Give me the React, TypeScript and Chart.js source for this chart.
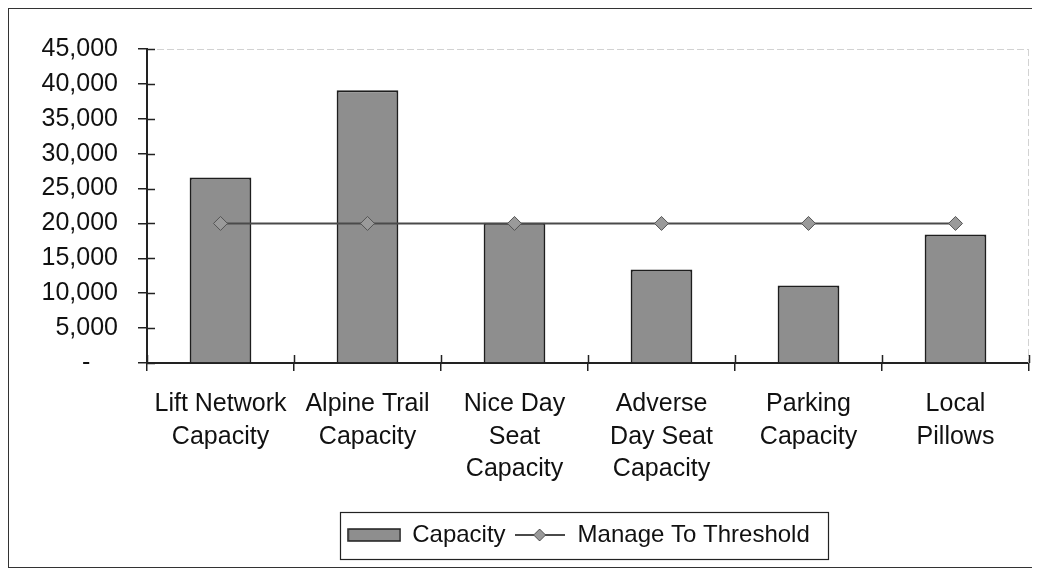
import React, { useEffect, useRef } from "react";
import { Chart, registerables } from "chart.js";

Chart.register(...registerables);

const categories: string[][] = [
  ["Lift Network", "Capacity"],
  ["Alpine Trail", "Capacity"],
  ["Nice Day", "Seat", "Capacity"],
  ["Adverse", "Day Seat", "Capacity"],
  ["Parking", "Capacity"],
  ["Local", "Pillows"],
];
const capacityValues = [26600, 39100, 20100, 13400, 11100, 18400];
const thresholdValues = [20000, 20000, 20000, 20000, 20000, 20000];
const seriesNames = ["Capacity", "Manage To Threshold"];
const yMin = 0;
const yMax = 45000;
const yStep = 5000;

const FONT = "'Liberation Sans', Arial, Helvetica, sans-serif";
const BAR_FILL = "#8e8e8e";
const BAR_EDGE = "#1e1e1e";
const LINE_COLOR = "#4a4a4a";
const MARKER_FILL = "#9a9a9a";
const MARKER_EDGE = "#555555";

function makeBarSwatch(): HTMLCanvasElement {
  const c = document.createElement("canvas");
  c.width = 54;
  c.height = 14;
  const g = c.getContext("2d")!;
  g.fillStyle = BAR_FILL;
  g.fillRect(1, 1, 52, 12);
  g.strokeStyle = BAR_EDGE;
  g.lineWidth = 1.5;
  g.strokeRect(1, 1, 52, 12);
  return c;
}

function makeLineSwatch(): HTMLCanvasElement {
  const c = document.createElement("canvas");
  c.width = 50;
  c.height = 16;
  const g = c.getContext("2d")!;
  g.strokeStyle = LINE_COLOR;
  g.lineWidth = 2;
  g.beginPath();
  g.moveTo(0, 8);
  g.lineTo(50, 8);
  g.stroke();
  g.beginPath();
  g.moveTo(25, 2);
  g.lineTo(31, 8);
  g.lineTo(25, 14);
  g.lineTo(19, 8);
  g.closePath();
  g.fillStyle = MARKER_FILL;
  g.fill();
  g.strokeStyle = MARKER_EDGE;
  g.lineWidth = 1;
  g.stroke();
  return c;
}

const LEGEND_SHIFT = -9;

const decorPlugin = {
  id: "decor",
  afterLayout(chart: any) {
    const lg = chart.legend;
    if (lg) {
      lg.left += LEGEND_SHIFT;
      lg.right += LEGEND_SHIFT;
      (lg.legendHitBoxes || []).forEach((h: any) => {
        h.left += LEGEND_SHIFT;
      });
    }
  },
  beforeDatasetsDraw(chart: any) {
    const { ctx, chartArea: a } = chart;
    ctx.save();
    ctx.strokeStyle = "#d2d2d2";
    ctx.lineWidth = 1;
    ctx.setLineDash([7, 3]);
    ctx.beginPath();
    ctx.moveTo(a.left, a.top + 0.5);
    ctx.lineTo(a.right, a.top + 0.5);
    ctx.moveTo(a.right - 0.5, a.top);
    ctx.lineTo(a.right - 0.5, a.bottom);
    ctx.stroke();
    ctx.restore();
  },
  afterDraw(chart: any) {
    const { ctx, chartArea: a, scales } = chart;
    const y = scales.y;
    const x = scales.x;
    ctx.save();
    ctx.strokeStyle = "#222";
    ctx.lineWidth = 1.5;
    ctx.beginPath();
    y.ticks.forEach((_t: any, i: number) => {
      const py = Math.round(y.getPixelForTick(i)) + 0.5;
      ctx.moveTo(a.left, py);
      ctx.lineTo(a.left + 8, py);
    });
    for (let i = 0; i <= categories.length; i++) {
      const px = Math.round(x.getPixelForValue(i - 0.5)) + 0.5;
      ctx.moveTo(px, a.bottom);
      ctx.lineTo(px, a.bottom - 8);
    }
    ctx.stroke();

    const lg = chart.legend;
    if (lg && lg.legendHitBoxes && lg.legendHitBoxes.length) {
      let minX = Infinity, maxX = -Infinity, minY = Infinity, maxY = -Infinity;
      lg.legendHitBoxes.forEach((h: any) => {
        minX = Math.min(minX, h.left);
        maxX = Math.max(maxX, h.left + h.width);
        minY = Math.min(minY, h.top);
        maxY = Math.max(maxY, h.top + h.height);
      });
      ctx.strokeStyle = "#222";
      ctx.lineWidth = 1.2;
      ctx.strokeRect(
        Math.round(minX - 8) + 0.5,
        Math.round(minY - 11) + 0.5,
        Math.round(maxX - minX + 26),
        Math.round(maxY - minY + 23)
      );
    }
    ctx.restore();
  },
};

export default function App() {
  const ref = useRef<HTMLCanvasElement | null>(null);

  useEffect(() => {
    if (!ref.current) return;
    Chart.defaults.font.family = FONT;
    const barSwatch = makeBarSwatch();
    const lineSwatch = makeLineSwatch();

    const chart = new Chart(ref.current, {
      type: "bar",
      data: {
        labels: categories,
        datasets: [
          {
            type: "bar",
            label: seriesNames[0],
            data: capacityValues,
            backgroundColor: BAR_FILL,
            borderColor: BAR_EDGE,
            borderWidth: 2,
            barPercentage: 0.42,
            categoryPercentage: 1,
            order: 1,
          },
          {
            type: "line",
            label: seriesNames[1],
            data: thresholdValues,
            borderColor: LINE_COLOR,
            borderWidth: 2,
            pointStyle: "rectRot",
            pointRadius: 7,
            pointBackgroundColor: MARKER_FILL,
            pointBorderColor: MARKER_EDGE,
            pointBorderWidth: 1,
            tension: 0,
            order: 0,
          } as any,
        ],
      },
      options: {
        animation: false,
        responsive: true,
        maintainAspectRatio: false,
        layout: { padding: { top: 40, right: 4, bottom: 10, left: 0 } },
        plugins: {
          tooltip: { enabled: false },
          legend: {
            position: "bottom",
            fullSize: false,
            labels: {
              usePointStyle: true,
              pointStyleWidth: 52,
              padding: 8,
              color: "#111",
              font: { size: 24, family: FONT },
              generateLabels: () => [
                {
                  text: seriesNames[0],
                  pointStyle: barSwatch as any,
                  datasetIndex: 0,
                  hidden: false,
                  lineWidth: 0,
                  fontColor: "#111",
                } as any,
                {
                  text: seriesNames[1],
                  pointStyle: lineSwatch as any,
                  datasetIndex: 1,
                  hidden: false,
                  lineWidth: 0,
                  fontColor: "#111",
                } as any,
              ],
            },
          },
        },
        scales: {
          x: {
            offset: true,
            grid: {
              display: true,
              drawOnChartArea: false,
              drawTicks: true,
              tickLength: 8,
              color: "#222",
              lineWidth: 1.5,
              offset: true,
            },
            border: { display: true, color: "#222", width: 2 },
            ticks: {
              color: "#111",
              font: { size: 25, family: FONT, lineHeight: 1.3 },
              padding: 17,
              maxRotation: 0,
              minRotation: 0,
              autoSkip: false,
            },
            afterFit: (s: any) => {
              s.height = 152;
            },
          },
          y: {
            min: yMin,
            max: yMax,
            grid: {
              display: true,
              drawOnChartArea: false,
              drawTicks: true,
              tickLength: 9,
              color: "#222",
              lineWidth: 1.5,
            },
            border: { display: true, color: "#222", width: 2 },
            ticks: {
              stepSize: yStep,
              color: "#111",
              font: { size: 25, family: FONT },
              padding: 20,
              callback: (v: any) =>
                Number(v) === 0 ? "-    " : Number(v).toLocaleString("en-US"),
            },
            afterFit: (s: any) => {
              s.width = 138;
            },
          },
        },
      },
      plugins: [decorPlugin],
    });
    return () => chart.destroy();
  }, []);

  return (
    <div
      style={{
        width: 1028,
        height: 558,
        border: "1px solid #333",
        background: "#fff",
        position: "relative",
      }}
    >
      <canvas ref={ref} />
    </div>
  );
}
